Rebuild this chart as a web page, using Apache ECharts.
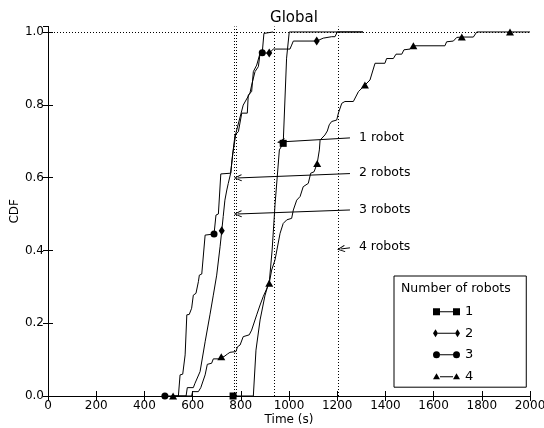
<!DOCTYPE html>
<html>
<head>
<meta charset="utf-8">
<script src="https://cdn.jsdelivr.net/npm/echarts@6/dist/echarts.min.js"></script>
<style>html,body{margin:0;padding:0;background:#fff;}#c{width:544px;height:428px;}</style>
</head>
<body>
<div id="c"></div>
<script>
// ---- data ----
var seriesNames = ['1', '2', '3', '4'];
var xTicks = [0, 200, 400, 600, 800, 1000, 1200, 1400, 1600, 1800, 2000];

// 1 robot (squares)
var t1 = [768, 852, 863, 880, 900, 919, 930, 942, 960, 976, 990, 1001, 1307];
var c1 = [0, 0, 0.126, 0.209, 0.275, 0.319, 0.401, 0.525, 0.676, 0.694, 0.928, 1.0, 1.0];
var mk1 = [0, 9];

// 2 robots (diamonds)
var t2 = [523, 573, 578, 603, 610, 631, 652, 672, 686, 700, 707, 714, 721, 727, 734, 742, 748, 758, 766, 780, 810, 838, 845, 859, 873, 880, 918, 935, 1004, 1011, 1018, 1115, 1142, 1177, 1191, 1200, 1307];
var c2 = [0, 0, 0.023, 0.023, 0.035, 0.067, 0.149, 0.223, 0.277, 0.332, 0.337, 0.41, 0.454, 0.493, 0.538, 0.566, 0.584, 0.612, 0.662, 0.723, 0.799, 0.832, 0.854, 0.891, 0.905, 0.942, 0.942, 0.953, 0.953, 0.964, 0.975, 0.975, 0.983, 0.987, 0.987, 1.0, 1.0];
var mk2 = [12, 26, 31];

// 3 robots (circles)
var t3 = [485, 541, 548, 559, 569, 576, 586, 596, 603, 614, 624, 628, 638, 652, 689, 697, 707, 717, 758, 766, 776, 790, 804, 827, 831, 845, 852, 866, 880, 889, 896, 898, 934];
var c3 = [0, 0, 0.058, 0.06, 0.113, 0.223, 0.224, 0.241, 0.277, 0.282, 0.314, 0.332, 0.335, 0.442, 0.445, 0.497, 0.5, 0.61, 0.612, 0.662, 0.717, 0.726, 0.777, 0.777, 0.827, 0.836, 0.891, 0.909, 0.942, 0.943, 0.996, 1.0, 1.0];
var mk3 = [0, 14, 29];

// 4 robots (triangles)
var t4 = [519, 596, 600, 624, 634, 652, 661, 679, 686, 707, 719, 730, 744, 755, 780, 786, 797, 810, 835, 845, 866, 880, 893, 918, 928, 942, 963, 976, 991, 1011, 1018, 1032, 1046, 1059, 1080, 1090, 1104, 1117, 1126, 1129, 1149, 1159, 1167, 1177, 1198, 1205, 1219, 1232, 1267, 1288, 1315, 1336, 1357, 1398, 1405, 1433, 1444, 1468, 1477, 1502, 1516, 1647, 1654, 1682, 1696, 1717, 1765, 1779, 1917, 2000];
var c4 = [0, 0, 0.012, 0.012, 0.023, 0.058, 0.087, 0.09, 0.102, 0.102, 0.108, 0.108, 0.115, 0.12, 0.122, 0.135, 0.14, 0.163, 0.168, 0.181, 0.223, 0.25, 0.273, 0.31, 0.346, 0.374, 0.447, 0.474, 0.484, 0.488, 0.511, 0.538, 0.548, 0.575, 0.584, 0.612, 0.616, 0.639, 0.676, 0.703, 0.717, 0.728, 0.745, 0.754, 0.758, 0.777, 0.804, 0.809, 0.809, 0.836, 0.854, 0.868, 0.914, 0.914, 0.927, 0.927, 0.939, 0.939, 0.951, 0.953, 0.962, 0.962, 0.973, 0.975, 0.985, 0.986, 0.986, 1.0, 1.0, 1.0];
var mk4 = [0, 10, 23, 37, 50, 60, 65, 68];

// vertical reference lines (s)
var vLines = [773, 781, 940, 1203];
// annotations: label, start [t, cdf], end [t, cdf]
var annLabels = ['1 robot', '2 robots', '3 robots', '4 robots'];
var annStart = [[1253, 0.709], [1253, 0.611], [1253, 0.511], [1253, 0.407]];
var annEnd = [[967, 0.698], [788, 0.599], [788, 0.500], [1216, 0.404]];

// ---- styling ----
var FONT = 'DejaVu Sans';
var diamondPath = 'path://M3,0 L6,5 L3,10 L0,5 Z';
var symbols = ['rect', diamondPath, 'circle', 'triangle'];
var symbolSizes = [7, [6, 9], 7, [8, 7]];
var legendIcons = [
  'path://M0,0.5h7v7h-7z M7,3.5h13v1h-13z M20,0.5h7v7h-7z',
  'path://M2.5,0 L5,4 L2.5,8 L0,4 Z M5,3.5h17v1h-17z M24.5,0 L27,4 L24.5,8 L22,4 Z',
  'path://M0,4 A3.5,3.5 0 1,0 7,4 A3.5,3.5 0 1,0 0,4 Z M7,3.5h13v1h-13z M20,4 A3.5,3.5 0 1,0 27,4 A3.5,3.5 0 1,0 20,4 Z',
  'path://M3.5,0.5 L7,6.5 L0,6.5 Z M7,3.5h13v1h-13z M23.5,0.5 L27,6.5 L20,6.5 Z'
];
var arrowHead = 'path://M5,0 L10,8 L8.9,8.6 L5,2.2 L1.1,8.6 L0,8 Z';

function build(ts, cs, mk, k) {
  var out = [];
  for (var i = 0; i < ts.length; i++) {
    if (mk.indexOf(i) >= 0) {
      out.push({ value: [ts[i], cs[i]], symbol: symbols[k], symbolSize: symbolSizes[k] });
    } else {
      out.push({ value: [ts[i], cs[i]], symbol: 'none' });
    }
  }
  return out;
}

var dotted = { color: '#000', width: 1, type: [1, 2] };

var refLineData = vLines.map(function (v) { return { xAxis: v }; });
refLineData.push({ yAxis: 1.0 });

var arrowData = annLabels.map(function (lab, i) {
  return [
    { coord: annStart[i], symbol: 'none', label: { formatter: lab } },
    { coord: annEnd[i], symbol: arrowHead, symbolSize: [7, 8] }
  ];
});

var allData = [build(t1, c1, mk1, 0), build(t2, c2, mk2, 1), build(t3, c3, mk3, 2), build(t4, c4, mk4, 3)];

var series = seriesNames.map(function (n, k) {
  return {
    name: n,
    type: 'line',
    data: allData[k],
    symbol: 'none',
    showSymbol: true,
    xAxisIndex: 0,
    yAxisIndex: 0,
    lineStyle: { color: '#000', width: 1 },
    itemStyle: { color: '#000' },
    emphasis: { disabled: true },
    silent: true,
    animation: false,
    clip: true,
    z: 3
  };
});
series[0].markLine = {
  silent: true, animation: false, symbol: 'none',
  label: { show: false },
  lineStyle: dotted,
  emphasis: { disabled: true },
  data: refLineData,
  z: 2
};
series[3].markLine = {
  silent: true, animation: false,
  symbol: ['none', arrowHead],
  symbolSize: [7, 8],
  lineStyle: { color: '#000', width: 1, type: 'solid' },
  label: { show: true, position: 'start', distance: 9, color: '#000', fontFamily: FONT, fontSize: 12.5 },
  emphasis: { disabled: true },
  data: arrowData,
  z: 4
};

var tickStyle = { inside: true, length: 5, lineStyle: { color: '#000', width: 1 } };
var axisLineStyle = { show: true, lineStyle: { color: '#000', width: 1 } };

var option = {
  animation: false,
  backgroundColor: '#fff',
  textStyle: { fontFamily: FONT, color: '#000' },
  title: {
    text: 'Global', left: 289, top: 6, textAlign: 'center',
    textStyle: { fontFamily: FONT, fontSize: 15, fontWeight: 'normal', color: '#000' }
  },
  grid: { left: 48, right: 14, top: 26.5, bottom: 32, containLabel: false, outerBoundsMode: 'none' },
  xAxis: [
    {
      type: 'value', min: 0, max: 2000, interval: 200, position: 'bottom',
      name: 'Time (s)', nameLocation: 'middle', nameGap: 18, nameMoveOverlap: false,
      nameTextStyle: { fontFamily: FONT, fontSize: 12, color: '#000' },
      axisLine: axisLineStyle, axisTick: tickStyle,
      axisLabel: { color: '#000', fontFamily: FONT, fontSize: 12, margin: 4,
        formatter: function (v) { return xTicks.indexOf(v) >= 0 ? String(v) : ''; } },
      splitLine: { show: false }
    },
    {
      type: 'value', min: 0, max: 2000, interval: 200, position: 'top',
      axisLine: axisLineStyle, axisTick: tickStyle,
      axisLabel: { show: false }, splitLine: { show: false }
    }
  ],
  yAxis: [
    {
      type: 'value', min: 0, max: 1.015, interval: 0.2, position: 'left',
      name: 'CDF', nameLocation: 'middle', nameGap: 27, nameMoveOverlap: false,
      nameTextStyle: { fontFamily: FONT, fontSize: 12, color: '#000' },
      axisLine: axisLineStyle, axisTick: tickStyle,
      axisLabel: { color: '#000', fontFamily: FONT, fontSize: 12, margin: 4, showMaxLabel: false,
        formatter: function (v) { return v.toFixed(1); } },
      splitLine: { show: false }
    },
    {
      type: 'value', min: 0, max: 1.015, interval: 0.2, position: 'right',
      axisLine: axisLineStyle, axisTick: tickStyle,
      axisLabel: { show: false }, splitLine: { show: false }
    }
  ],
  legend: {
    orient: 'vertical',
    left: 394, top: 276,
    padding: [28.7, 53, 4, 39],
    borderColor: '#000', borderWidth: 1,
    backgroundColor: '#fff',
    itemWidth: 27, itemHeight: 9, itemGap: 7.5,
    selectedMode: false,
    textStyle: { fontFamily: FONT, fontSize: 13, color: '#000', lineHeight: 14 },
    data: seriesNames.map(function (n, k) { return { name: n, icon: legendIcons[k], itemStyle: { color: '#000' } }; }),
    z: 10
  },
  graphic: [{
    type: 'text', left: 401, top: 282, z: 100,
    style: { text: 'Number of robots', font: '12.5px "DejaVu Sans"', fill: '#000' }
  }],
  series: series
};

var chart = echarts.init(document.getElementById('c'), null, { renderer: 'canvas' });
chart.setOption(option);
</script>
</body>
</html>
